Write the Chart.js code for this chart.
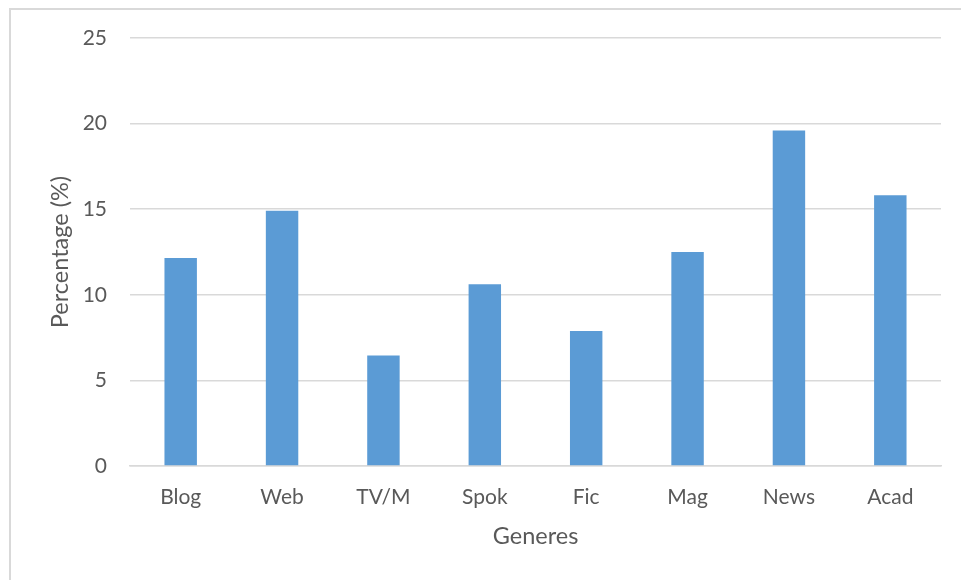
<!DOCTYPE html>
<html>
<head>
<meta charset="utf-8">
<script src="https://cdn.jsdelivr.net/npm/chart.js@4"></script>
<style>
  html, body { margin: 0; padding: 0; background: #fff; }
  #wrap { position: relative; width: 961px; height: 580px; overflow: hidden; }
  #frame { position: absolute; left: 9px; top: 8px; width: 980px; height: 600px; border: 2px solid #d9d9d9; box-sizing: border-box; }
  canvas { position: absolute; left: 0; top: 0; }
</style>
</head>
<body>
<div id="wrap">
  <div id="frame"></div>
  <canvas id="c" width="961" height="580"></canvas>
</div>
<script>
const categories = ["Blog", "Web", "TV/M", "Spok", "Fic", "Mag", "News", "Acad"];
const percentages = [12.15, 14.91, 6.46, 10.61, 7.88, 12.50, 19.59, 15.81];
const yTicks = [0, 5, 10, 15, 20, 25];

const FONT = "Lato, 'Open Sans', sans-serif";
const TXT = "#595959";

new Chart(document.getElementById("c"), {
  type: "bar",
  data: {
    labels: categories,
    datasets: [{
      data: percentages,
      backgroundColor: "#5b9bd5",
      borderWidth: 0,
      categoryPercentage: 1.0,
      barPercentage: 0.32
    }]
  },
  options: {
    responsive: false,
    animation: false,
    devicePixelRatio: 1,
    layout: { padding: { top: 38, right: 20, left: 0, bottom: 0 } },
    plugins: { legend: { display: false }, tooltip: { enabled: false } },
    scales: {
      x: {
        grid: { display: false, drawTicks: false },
        border: { display: true, color: "#d9d9d9", width: 1.5 },
        ticks: { color: TXT, font: { family: FONT, size: 21 }, padding: 19, maxRotation: 0 },
        title: { display: true, text: "Generes", color: TXT, font: { family: FONT, size: 23.5 }, padding: { top: 0, bottom: 29 } },
        afterFit: s => { s.height = 114; }
      },
      y: {
        min: 0, max: 25,
        afterBuildTicks: s => { s.ticks = yTicks.map(v => ({ value: v })); },
        grid: { color: "#d9d9d9", lineWidth: 1.5, drawTicks: false },
        border: { display: false },
        ticks: { color: TXT, font: { family: FONT, size: 21 }, padding: 23 },
        title: { display: true, text: "Percentage (%)", color: TXT, font: { family: FONT, size: 23.5 }, padding: { top: 46, bottom: 0 } },
        afterFit: s => { s.width = 130; }
      }
    }
  }
});
</script>
</body>
</html>
